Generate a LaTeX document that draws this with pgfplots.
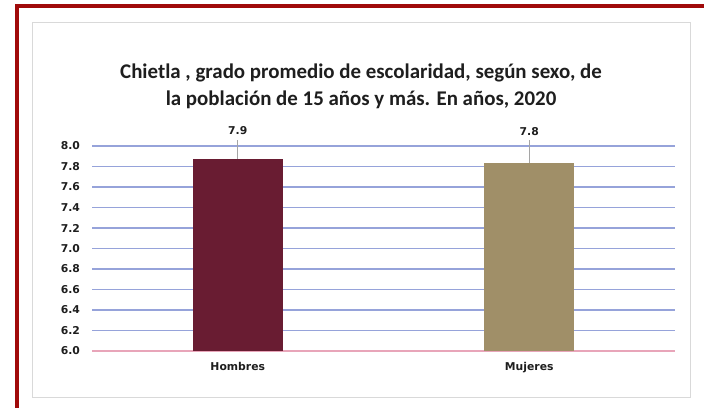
\documentclass[border=0pt]{standalone}
\usepackage{pgfplots}
\pgfplotsset{compat=1.18}
\usepackage{fontspec}
\setmainfont{DejaVu Sans}
\newfontfamily\titlefont{Carlito}
\definecolor{hombres}{RGB}{105,28,50}
\definecolor{mujeres}{RGB}{160,143,104}
\definecolor{gridblue}{RGB}{150,163,218}
\definecolor{basepink}{RGB}{232,165,185}
\definecolor{framered}{RGB}{160,10,10}
\definecolor{framegrey}{RGB}{217,217,217}
\definecolor{leader}{RGB}{165,165,165}
\definecolor{txt}{RGB}{30,30,30}
\begin{document}
\begin{tikzpicture}[x=1pt,y=1pt]
\useasboundingbox (0,0) rectangle (704,407);
\begin{scope}
\clip (0,0) rectangle (704,407);
\fill[white] (0,0) rectangle (704,407);
\draw[framered, line width=4.5pt] (17,-20) -- (17,401) -- (724,401);
\end{scope}
\draw[framegrey, line width=1pt] (32,10) rectangle (690,384);
\node[font=\titlefont\bfseries\fontsize{20.9}{24}\selectfont, anchor=base, text=txt] at (361,328) {Chietla , grado promedio de escolaridad, según sexo, de};
\node[font=\titlefont\bfseries\fontsize{20.9}{24}\selectfont, anchor=base, text=txt] at (361,301) {la población de 15 años y más. En años, 2020};
\begin{axis}[
  at={(92pt,56pt)}, anchor=south west,
  scale only axis, width=583pt, height=205pt,
  ybar, bar width=90pt, bar shift=0pt,
  xmin=-0.5, xmax=1.5, ymin=6, ymax=8,
  clip=false,
  xtick={0,1}, xticklabels={Hombres,Mujeres},
  ytick={6,6.2,6.4,6.6,6.8,7,7.2,7.4,7.6,7.8,8},
  /pgf/number format/assume math mode=true,
  yticklabel style={/pgf/number format/fixed, /pgf/number format/fixed zerofill, /pgf/number format/precision=1, xshift=-8.5pt},
  xticklabel style={yshift=-8pt},
  ticklabel style={font=\bfseries\fontsize{10.8}{12}\selectfont, text=txt},
  ymajorgrids, grid style={gridblue, line width=1.4pt},
  axis x line*=bottom, axis y line*=left,
  separate axis lines,
  y axis line style={draw=none},
  x axis line style={basepink, line width=1.4pt, -},
  major tick length=0pt, tick style={draw=none},
  every node near coord/.append style={align=center, anchor=south, inner sep=0pt, font=\bfseries\fontsize{10.8}{12}\selectfont, text=txt},
]
\addplot[fill=hombres, draw=none,
  nodes near coords={\pgfmathprintnumber[fixed,precision=1]{\pgfplotspointmeta}\\[4pt]\textcolor{leader}{\rule{0.7pt}{19pt}}}]
  coordinates {(0,7.87)};
\addplot[fill=mujeres, draw=none,
  nodes near coords={\pgfmathprintnumber[fixed,precision=1]{\pgfplotspointmeta}\\[4pt]\textcolor{leader}{\rule{0.7pt}{23pt}}}]
  coordinates {(1,7.83)};
\end{axis}
\end{tikzpicture}
\end{document}
